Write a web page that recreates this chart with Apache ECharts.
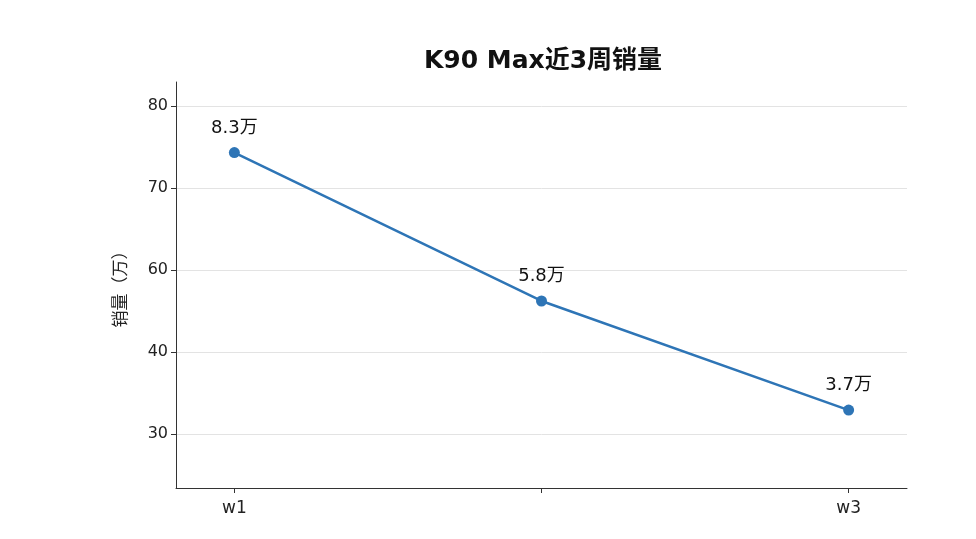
<!DOCTYPE html>
<html><head><meta charset="utf-8">
<script src="https://cdn.jsdelivr.net/npm/echarts@6/dist/echarts.min.js"></script>
<style>html,body{margin:0;padding:0;background:#fff}#c{width:976px;height:539px}</style>
</head><body><div id="c"></div>
<script>
const categories = ['w1', '', 'w3'];
// y axis ticks are evenly spaced in the picture, labelled irregularly
const yTickLabels = ['30', '40', '60', '70', '80'];
// point heights in tick-position units (0 = "30" line, 4 = "80" line)
const values = [3.43, 1.62, 0.29];
const pointLabels = ['8.3万', '5.8万', '3.7万'];

const F = 'DejaVu Sans, Noto Sans CJK SC';
const chart = echarts.init(document.getElementById('c'));
chart.setOption({
  backgroundColor: '#fff',
  textStyle: {fontFamily: F},
  title: {text: 'K90 Max近3周销量', left: 538, top: 44, textAlign: 'center',
    textStyle: {fontSize: 25, fontWeight: 'bold', color: '#111', fontFamily: F}},
  grid: {left: 176, right: 69, top: 82, bottom: 51},
  xAxis: {type: 'value', min: -0.19, max: 2.19,
    axisLine: {show: true, onZero: false, lineStyle: {color: '#333'}},
    axisTick: {show: true, customValues: [0, 1, 2], length: 5, lineStyle: {color: '#333'}},
    axisLabel: {customValues: [0, 1, 2], formatter: v => categories[Math.round(v)], fontSize: 17, color: '#222', margin: 12, fontFamily: F},
    splitLine: {show: false}},
  yAxis: {type: 'value', min: -0.66, max: 4.29,
    name: '销量（万）', nameLocation: 'middle', nameGap: 46, nameRotate: 90,
    nameTextStyle: {fontSize: 17, color: '#222', fontFamily: F},
    axisLine: {show: true, onZero: false, lineStyle: {color: '#333'}},
    axisTick: {show: true, customValues: [0, 1, 2, 3, 4], length: 5, lineStyle: {color: '#333'}},
    axisLabel: {customValues: [0, 1, 2, 3, 4], formatter: v => yTickLabels[Math.round(v)], fontSize: 16, color: '#222', fontFamily: F},
    splitLine: {show: true, lineStyle: {color: '#e3e3e3'}}},
  series: [{type: 'line', data: values.map((v, i) => [i, v]),
    symbol: 'circle', symbolSize: 11,
    lineStyle: {color: '#2e75b6', width: 2.5}, itemStyle: {color: '#2e75b6'},
    label: {show: true, position: 'top', distance: 10, fontSize: 18, color: '#111', fontFamily: F,
      formatter: p => pointLabels[p.dataIndex]}}]
});
</script></body></html>
